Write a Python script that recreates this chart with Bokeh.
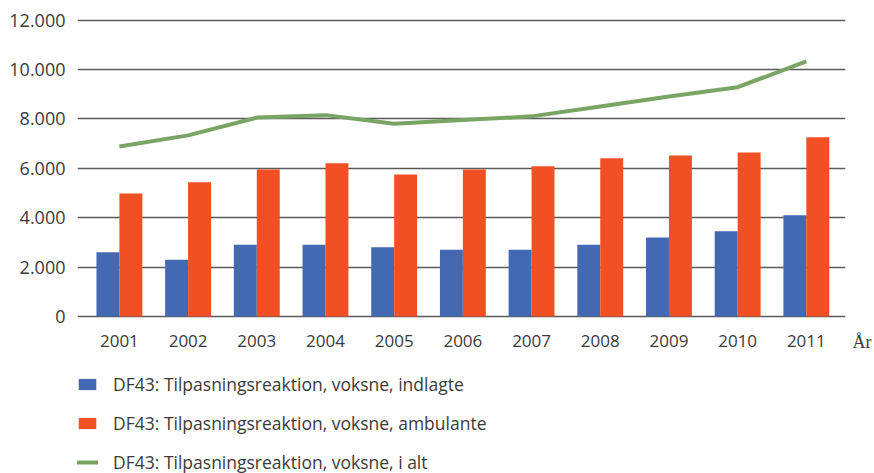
from bokeh.plotting import figure
from bokeh.models import (Range1d, FixedTicker, CustomJSTickFormatter, Legend,
                          LegendItem, LinearAxis, ColumnDataSource)
from bokeh.transform import dodge
from bokeh.embed import file_html
from bokeh.resources import INLINE

years = [2001, 2002, 2003, 2004, 2005, 2006, 2007, 2008, 2009, 2010, 2011]
indlagte = [2600, 2300, 2900, 2900, 2800, 2700, 2700, 2900, 3200, 3450, 4100]
ambulante = [4980, 5430, 5950, 6200, 5750, 5950, 6080, 6400, 6520, 6640, 7250]
i_alt = [6880, 7330, 8050, 8150, 7800, 7950, 8100, 8500, 8900, 9280, 10330]
y_ticks = [0, 2000, 4000, 6000, 8000, 10000, 12000]
x_title = "År"

names = ["DF43: Tilpasningsreaktion, voksne, indlagte",
         "DF43: Tilpasningsreaktion, voksne, ambulante",
         "DF43: Tilpasningsreaktion, voksne, i alt"]

src = ColumnDataSource(dict(year=years, ind=indlagte, amb=ambulante, tot=i_alt))

FONT = "Open Sans"
TXT = "#3a3a3a"

W, H = 874, 473
p = figure(width=W, height=H, output_backend="svg", toolbar_location=None,
           x_range=Range1d(2000.39, 2011.57), y_range=Range1d(-6354, 12061),
           min_border_left=77, min_border_right=27, min_border_top=18,
           min_border_bottom=0)
p.outline_line_color = None
p.background_fill_color = "white"
p.border_fill_color = "white"

bw = 0.334
r1 = p.vbar(x=dodge("year", -bw / 2), top="ind", bottom=0, width=bw, source=src,
            fill_color="#4369B3", line_color=None)
r2 = p.vbar(x=dodge("year", bw / 2), top="amb", bottom=0, width=bw, source=src,
            fill_color="#F05023", line_color=None)
r3 = p.line(x="year", y="tot", source=src, line_color="#78A563", line_width=4)

p.xgrid.visible = False
p.ygrid.ticker = FixedTicker(ticks=y_ticks)
p.ygrid.grid_line_color = "#5a5a5a"
p.ygrid.grid_line_width = 1.5

p.yaxis.ticker = FixedTicker(ticks=y_ticks)
p.yaxis.formatter = CustomJSTickFormatter(
    code="return tick.toFixed(0).replace(/\\B(?=(\\d{3})+(?!\\d))/g, '.');")
p.xaxis.ticker = FixedTicker(ticks=years)
p.xaxis.formatter = CustomJSTickFormatter(code="return tick.toFixed(0);")
p.xaxis.fixed_location = 0

# right-side axis that only carries the "År" title at the level of the year labels
title_axis = LinearAxis(ticker=FixedTicker(ticks=[-1013]),
                        formatter=CustomJSTickFormatter(
                            code="return %r;" % x_title))
p.add_layout(title_axis, "right")

for ax in (p.xaxis, p.yaxis, title_axis):
    ax.axis_line_color = None
    ax.major_tick_line_color = None
    ax.minor_tick_line_color = None
    ax.major_tick_out = 0
    ax.major_tick_in = 0
    ax.major_label_text_font = FONT
    ax.major_label_text_color = TXT
p.yaxis[0].major_label_text_font_size = "18px"
p.yaxis[0].major_label_standoff = 12
p.xaxis.major_label_text_font_size = "17px"
p.xaxis.major_label_standoff = 18
title_axis.major_label_text_font = "Liberation Serif"
title_axis.major_label_text_font_size = "18px"
title_axis.major_label_standoff = 7

legend = Legend(items=[LegendItem(label=names[0], renderers=[r1]),
                       LegendItem(label=names[1], renderers=[r2]),
                       LegendItem(label=names[2], renderers=[r3])],
                location=(-1, -1), orientation="vertical",
                glyph_width=22, glyph_height=14, label_standoff=15,
                label_height=20, spacing=15, padding=0, margin=0,
                border_line_color=None, background_fill_alpha=0,
                label_text_font=FONT, label_text_font_size="17.5px",
                label_text_color=TXT)
p.add_layout(legend, "center")

open("out.html", "w").write(file_html(p, INLINE))
